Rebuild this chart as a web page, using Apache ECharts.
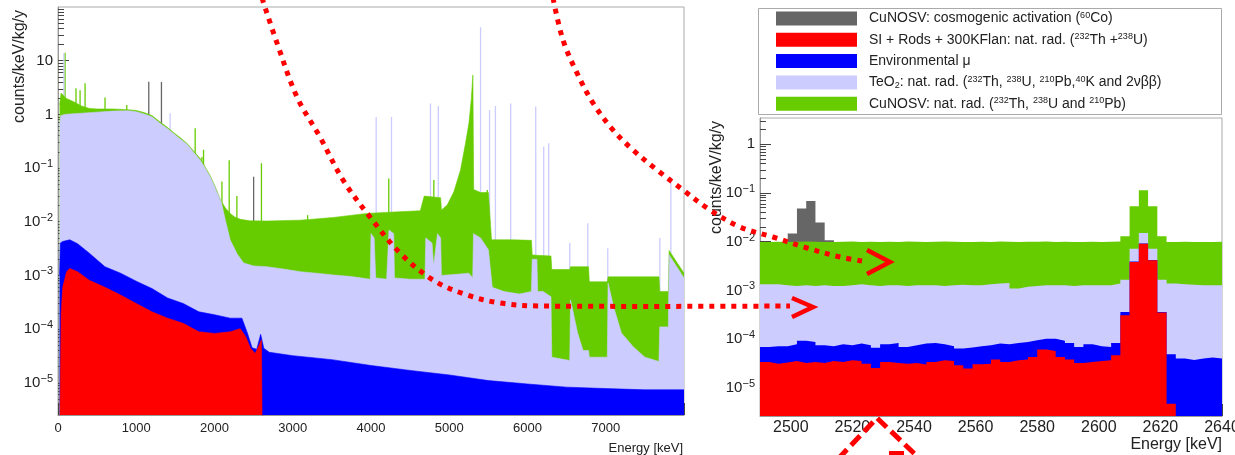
<!DOCTYPE html>
<html>
<head>
<meta charset="utf-8">
<script src="https://cdn.jsdelivr.net/npm/echarts@6/dist/echarts.min.js"></script>
<style>
  html, body { margin: 0; padding: 0; background: #fff; }
  #chart { width: 1235px; height: 455px; }
</style>
</head>
<body>
<div id="chart"></div>
<script>
// ---- Full-range spectrum (0-8000 keV): visible top of each stacked band, [keV, counts/keV/kg/y]
const fullCuTop = [[20, 1.5], [40, 2.5], [60, 2.3], [100, 2.0], [200, 1.72], [300, 1.43], [400, 1.29], [500, 1.26], [700, 1.26], [900, 1.22], [1000, 1.18], [1100, 1.08], [1200, 0.95], [1305, 0.72], [1400, 0.57], [1476, 0.46], [1560, 0.37], [1647, 0.29], [1730, 0.21], [1817, 0.15], [1880, 0.105], [1945, 0.072], [1990, 0.052], [2030, 0.038], [2073, 0.026], [2140, 0.018], [2200, 0.0143], [2260, 0.0122], [2330, 0.0111], [2450, 0.0104], [2670, 0.0103], [3097, 0.0107], [3520, 0.012], [3950, 0.0143], [4300, 0.0152], [4630, 0.016], [4680, 0.03], [4890, 0.028], [4900, 0.0165], [4974, 0.0205], [5059, 0.036], [5144, 0.092], [5208, 0.29], [5251, 0.68], [5281, 1.85], [5302, 5.4], [5312, 0.04], [5400, 0.035], [5500, 0.035], [5540, 0.0046], [5800, 0.0046], [6050, 0.0045], [6060, 0.0024], [6300, 0.0023], [6310, 0.00129], [6540, 0.00129], [6550, 0.00145], [6780, 0.00145], [6790, 0.00076], [7020, 0.00076], [7030, 0.00094], [7680, 0.00094], [7690, 0.0005], [7800, 0.0005], [7810, 0.0029], [8000, 0.0011]];

const fullTeoTop = [[20, 0.6], [35, 0.95], [100, 1.0], [300, 1.05], [500, 1.1], [700, 1.15], [900, 1.17], [1000, 1.12], [1100, 1.02], [1200, 0.9], [1305, 0.68], [1400, 0.54], [1476, 0.44], [1560, 0.35], [1647, 0.28], [1730, 0.2], [1817, 0.141], [1880, 0.1], [1945, 0.069], [1990, 0.05], [2030, 0.036], [2082, 0.025], [2140, 0.0105], [2200, 0.0046], [2290, 0.0025], [2372, 0.0017], [2500, 0.0015], [2670, 0.00145], [2900, 0.0013], [3097, 0.00117], [3300, 0.0011], [3520, 0.00102], [3750, 0.00095], [3990, 0.00085], [4000, 0.006], [4040, 0.005], [4060, 0.0009], [4200, 0.00085], [4230, 0.007], [4290, 0.006], [4300, 0.0009], [4500, 0.00085], [4690, 0.00085], [4700, 0.005], [4780, 0.004], [4800, 0.0015], [4850, 0.006], [4890, 0.005], [4900, 0.001], [5100, 0.00105], [5250, 0.0011], [5300, 0.0009], [5310, 0.006], [5400, 0.005], [5500, 0.003], [5550, 0.0006], [5700, 0.0005], [5900, 0.00045], [6050, 0.0005], [6060, 0.002], [6120, 0.002], [6130, 0.0005], [6200, 0.0005], [6300, 0.0004], [6310, 0.00003], [6540, 0.000026], [6550, 0.00035], [6640, 0.000085], [6710, 0.00004], [6780, 0.00004], [6790, 0.00003], [7020, 0.00003], [7030, 0.00072], [7100, 0.00026], [7200, 0.000085], [7350, 0.000047], [7500, 0.00003], [7680, 0.000025], [7690, 0.00011], [7800, 0.00011], [7810, 0.0024], [8000, 0.0009]];

const fullMuTop = [[20, 0.001], [30, 0.004], [60, 0.0043], [150, 0.0046], [250, 0.0039], [400, 0.0026], [600, 0.00145], [800, 0.0011], [1000, 0.00078], [1200, 0.00057], [1400, 0.00038], [1600, 0.0003], [1800, 0.00021], [2000, 0.000185], [2200, 0.00016], [2350, 0.00016], [2420, 0.000085], [2480, 0.000045], [2540, 0.000042], [2590, 0.00008], [2630, 0.000044], [2700, 0.000037], [3000, 0.000032], [3500, 0.000027], [4000, 0.000021], [4500, 0.000017], [5000, 0.000014], [5500, 0.000011], [6000, 0.0000095], [6500, 0.0000083], [7000, 0.0000078], [7500, 0.0000074], [8000, 0.0000074]];

const fullSiTop = [[22, 0.000001], [40, 0.0002], [60, 0.0006], [110, 0.00117], [150, 0.00135], [250, 0.00117], [400, 0.00081], [600, 0.0006], [800, 0.00043], [1000, 0.0003], [1200, 0.00021], [1400, 0.00016], [1600, 0.000128], [1800, 0.000089], [2000, 0.000083], [2200, 0.000089], [2330, 0.000102], [2400, 0.000072], [2460, 0.000044], [2520, 0.000035], [2560, 0.000047], [2600, 0.000063], [2618, 0.000063], [2620, 0.00000001]];

// ---- Narrow lines on the full-range spectrum, [keV, peak height]
const peaksCu = [[90, 14], [230, 3.05], [282, 2.8], [346, 3.8], [601, 2.07], [879, 1.5], [1753, 0.55], [1839, 0.16], [1860, 0.22], [2095, 0.056], [2188, 0.14], [2286, 0.03], [2600, 0.123], [3190, 0.0133], [4227, 0.064], [4803, 0.06], [5486, 0.039]];
const peaksCosmo = [[1160, 4.05], [1322, 4.0], [2500, 0.069]];
const peaksTeo = [[75, 13.8], [1433, 1.05], [4066, 0.89], [4262, 0.89], [4760, 1.6], [4860, 1.43], [5400, 42], [5515, 1.2], [5590, 1.43], [5785, 1.6], [6105, 1.4], [6207, 0.25], [6271, 0.29], [6540, 0.004], [6770, 0.0094], [7026, 0.0032], [7691, 0.005], [7832, 0.068]];
const peaksMu = [[502, 0.0124], [583, 0.0018], [892, 0.0031], [955, 0.0023], [1583, 0.00095], [2086, 0.00069]];
const peaksSi = [[502, 0.003], [892, 0.0026], [955, 0.0023], [1583, 0.00081], [1617, 0.00066], [2086, 0.0006], [2600, 0.004]];

// ---- Zoom on the 2490-2640 keV region: 3 keV bins (lower edges) and bin contents
const zoomBinLow = [2490, 2493, 2496, 2499, 2502, 2505, 2508, 2511, 2514, 2517, 2520, 2523, 2526, 2529, 2532, 2535, 2538, 2541, 2544, 2547, 2550, 2553, 2556, 2559, 2562, 2565, 2568, 2571, 2574, 2577, 2580, 2583, 2586, 2589, 2592, 2595, 2598, 2601, 2604, 2607, 2610, 2613, 2616, 2619, 2622, 2625, 2628, 2631, 2634, 2637];
const zoomBinEnd = 2640;
const zoomCosmo = [0, 0, 0, 0.0147, 0.0478, 0.0686, 0.0247, 0.0107, 0, 0, 0, 0, 0, 0, 0, 0, 0, 0, 0, 0, 0, 0, 0, 0, 0, 0, 0, 0, 0, 0, 0, 0, 0, 0, 0, 0, 0, 0, 0, 0, 0, 0, 0, 0, 0, 0, 0, 0, 0, 0];
const zoomCu = [0.0099, 0.0100, 0.0098, 0.0100, 0.0101, 0.0100, 0.0099, 0.0099, 0.0100, 0.0101, 0.0099, 0.0100, 0.0098, 0.0100, 0.0099, 0.0101, 0.0100, 0.0099, 0.0100, 0.0101, 0.0100, 0.0099, 0.0098, 0.0100, 0.0099, 0.0101, 0.0100, 0.0099, 0.0100, 0.0100, 0.0101, 0.0099, 0.0100, 0.0098, 0.0099, 0.0100, 0.0099, 0.0100, 0.0101, 0.0129, 0.0533, 0.1136, 0.0533, 0.0129, 0.0099, 0.0100, 0.0099, 0.0098, 0.0099, 0.0100];
const zoomTeo = [0.00133, 0.00133, 0.00127, 0.00123, 0.00127, 0.00123, 0.00127, 0.00123, 0.00123, 0.00127, 0.00133, 0.00127, 0.00123, 0.00127, 0.00127, 0.00123, 0.00127, 0.00127, 0.00127, 0.00123, 0.00127, 0.00131, 0.00127, 0.00127, 0.00133, 0.00138, 0.00142, 0.00109, 0.00118, 0.00123, 0.00127, 0.00127, 0.00127, 0.00123, 0.00127, 0.00127, 0.00127, 0.00127, 0.00138, 0.00166, 0.0072, 0.0151, 0.0072, 0.00166, 0.00138, 0.00133, 0.00131, 0.00127, 0.00127, 0.00127];
const zoomMu = [0.000069, 0.000071, 0.000071, 0.000078, 0.000092, 0.000087, 0.000075, 0.000071, 0.000078, 0.000075, 0.000081, 0.000075, 0.000066, 0.000078, 0.000083, 0.000069, 0.000075, 0.000081, 0.000083, 0.000078, 0.000071, 0.000064, 0.000067, 0.000071, 0.000075, 0.000081, 0.000078, 0.000083, 0.000087, 0.000094, 0.000102, 0.000101, 0.000092, 0.000083, 0.000069, 0.000078, 0.000071, 0.000069, 0.000083, 0.00036, 0.0039, 0.0092, 0.0042, 0.00036, 0.000049, 0.00004, 0.000037, 0.00004, 0.000042, 0.00004];
const zoomSi = [0.000034, 0.0000313, 0.0000329, 0.0000356, 0.0000324, 0.000034, 0.0000324, 0.0000356, 0.000034, 0.0000367, 0.0000356, 0.0000313, 0.0000255, 0.000034, 0.0000324, 0.0000313, 0.0000324, 0.0000299, 0.000034, 0.0000367, 0.0000356, 0.000029, 0.0000248, 0.0000304, 0.0000313, 0.0000379, 0.000034, 0.0000367, 0.0000379, 0.000043, 0.000061, 0.000057, 0.000043, 0.0000379, 0.0000324, 0.000034, 0.0000356, 0.0000367, 0.0000465, 0.00031, 0.00384, 0.0091, 0.00415, 0.00035, 0.0000047, 0, 0, 0, 0, 0];

// ---- Axis ticks
const fullEnergyTicks = [0, 1000, 2000, 3000, 4000, 5000, 6000, 7000, 8000];
const fullEnergyLabels = [0, 1000, 2000, 3000, 4000, 5000, 6000, 7000];
const zoomEnergyTicks = [2500, 2520, 2540, 2560, 2580, 2600, 2620, 2640];
const fullDecades = [-5, -4, -3, -2, -1, 0, 1];
const zoomDecades = [-5, -4, -3, -2, -1, 0];

const legendLabels = {
  cosmo: 'CuNOSV: cosmogenic activation ({s|60}Co)',
  si: 'SI + Rods + 300KFlan: nat. rad. ({s|232}Th +{s|238}U)',
  mu: 'Environmental \u03bc',
  teo: 'TeO{d|2}: nat. rad. ({s|232}Th, {s|238}U, {s|210}Pb,{s|40}K and 2\u03bd\u03b2\u03b2)',
  cu: 'CuNOSV: nat. rad. ({s|232}Th, {s|238}U and {s|210}Pb)'
};

const GREEN = '#66cc00', LAV = '#ccccff', BLUE = '#0000ff', RED = '#ff0000', GRAY = '#666666';
const FONT = '"Liberation Sans", Arial, Helvetica, sans-serif';
const TXT = '#222';
const FULL_YMIN = -5.6, FULL_YMAX = 2;
const ZOOM_YMIN = -5.58, ZOOM_YMAX = 0.54;

const lg = v => (v > 0 ? Math.log10(v) : -9);

function minorLogTicks(lo, hi) {
  const out = [];
  for (let n = Math.floor(lo) - 1; n <= Math.ceil(hi); n++) {
    for (let k = 2; k <= 9; k++) {
      const t = n + Math.log10(k);
      if (t > lo && t < hi) out.push(t);
    }
  }
  return out;
}
function minorLinTicks(lo, hi, step, major) {
  const out = [];
  for (let t = lo; t <= hi + 1e-9; t += step) {
    if (major.indexOf(t) < 0) out.push(t);
  }
  return out;
}
function decadeLabel(v) {
  const n = Math.round(v);
  if (n === 0) return '{b|1}';
  if (n === 1) return '{b|10}';
  return '{b|10}{s|' + (n < 0 ? '\u2212' : '') + Math.abs(n) + '}';
}

function yAxes(grid, lo, hi, decades, fs, sfs) {
  return [{
    gridIndex: grid, type: 'value', min: lo, max: hi, position: 'left',
    axisLine: { show: true, onZero: false, lineStyle: { color: '#999', width: 1 } },
    axisTick: { show: true, inside: true, length: 11, customValues: decades, lineStyle: { color: '#444' } },
    axisLabel: {
      show: true, customValues: decades, margin: 5, formatter: decadeLabel,
      rich: {
        b: { fontSize: fs, fontFamily: FONT, color: TXT, lineHeight: fs + 4 },
        s: { fontSize: sfs, fontFamily: FONT, color: TXT, lineHeight: sfs, verticalAlign: 'top' }
      }
    },
    splitLine: { show: false }
  }, {
    gridIndex: grid, type: 'value', min: lo, max: hi, position: 'left',
    axisLine: { show: false, onZero: false },
    axisTick: { show: true, inside: true, length: 6, customValues: minorLogTicks(lo, hi), lineStyle: { color: '#444' } },
    axisLabel: { show: false },
    splitLine: { show: false }
  }];
}
function xAxes(grid, lo, hi, ticks, labels, minorStep, fs, margin) {
  return [{
    gridIndex: grid, type: 'value', min: lo, max: hi, position: 'bottom',
    axisLine: { show: true, onZero: false, lineStyle: { color: '#999', width: 1 } },
    axisTick: { show: true, inside: true, length: 12, customValues: ticks, lineStyle: { color: '#444' } },
    axisLabel: { show: true, customValues: labels, fontSize: fs, fontFamily: FONT, color: TXT, margin: margin,
                 formatter: v => String(v) },
    splitLine: { show: false }
  }, {
    gridIndex: grid, type: 'value', min: lo, max: hi, position: 'bottom',
    axisLine: { show: false, onZero: false },
    axisTick: { show: true, inside: true, length: 6, customValues: minorLinTicks(lo, hi, minorStep, ticks), lineStyle: { color: '#444' } },
    axisLabel: { show: false },
    splitLine: { show: false }
  }];
}

// filled band of the full-range spectrum
function band(name, pts, color) {
  return {
    name, type: 'line', xAxisIndex: 0, yAxisIndex: 0,
    data: pts.map(([e, v]) => [e, lg(v)]),
    symbol: 'none', showSymbol: false, clip: true, silent: true, animation: false,
    lineStyle: { width: 0.6, color }, itemStyle: { color },
    areaStyle: { color, opacity: 1, origin: 'start' }
  };
}
// narrow lines rising from the bottom of the full-range frame
function spikes(name, pts, color) {
  return {
    name, type: 'custom', xAxisIndex: 0, yAxisIndex: 0, clip: true, silent: true, animation: false,
    itemStyle: { color },
    encode: { x: 0, y: 1 },
    data: pts.map(([e, v]) => [e, lg(v)]),
    renderItem: (params, api) => {
      const top = api.coord([api.value(0), api.value(1)]);
      const bot = api.coord([api.value(0), FULL_YMIN]);
      return { type: 'line', shape: { x1: top[0], y1: top[1], x2: bot[0], y2: bot[1] },
               style: { stroke: color, lineWidth: 1.3 } };
    }
  };
}
// step histogram of the zoomed region
function hist(name, vals, color) {
  const data = zoomBinLow.map((e, i) => [e, lg(vals[i])]);
  data.push([zoomBinEnd, lg(vals[vals.length - 1])]);
  return {
    name, type: 'line', xAxisIndex: 2, yAxisIndex: 2, step: 'end',
    data, symbol: 'none', showSymbol: false, clip: true, silent: true, animation: false,
    lineStyle: { width: 0, color }, itemStyle: { color },
    areaStyle: { color, opacity: 1, origin: 'start' }
  };
}

const dotted = { stroke: RED, lineWidth: 5, lineDash: [5, 6], fill: null };
const chevron = { stroke: RED, lineWidth: 4.5, fill: null, lineJoin: 'miter' };

const option = {
  backgroundColor: '#ffffff',
  animation: false,
  textStyle: { fontFamily: FONT },
  grid: [
    { left: 58, top: 7, width: 626, height: 408, show: true, borderColor: '#aaa', borderWidth: 1,
      backgroundColor: 'transparent', containLabel: false, outerBoundsMode: 'none' },
    { left: 760, top: 118, width: 462, height: 298, show: true, borderColor: '#aaa', borderWidth: 1,
      backgroundColor: 'transparent', containLabel: false, outerBoundsMode: 'none' }
  ],
  xAxis: [
    ...xAxes(0, 0, 8000, fullEnergyTicks, fullEnergyLabels, 200, 13, 7),
    ...xAxes(1, 2490, 2640, zoomEnergyTicks, zoomEnergyTicks, 5, 16, 4)
  ],
  yAxis: [
    ...yAxes(0, FULL_YMIN, FULL_YMAX, fullDecades, 15, 11),
    ...yAxes(1, ZOOM_YMIN, ZOOM_YMAX, zoomDecades, 15, 11)
  ],
  legend: {
    show: true, orient: 'vertical', left: 776, top: 11, itemWidth: 81, itemHeight: 14, itemGap: 6.3,
    icon: 'rect', selectedMode: false, padding: 0,
    data: ['cosmo', 'si', 'mu', 'teo', 'cu'],
    formatter: name => legendLabels[name],
    textStyle: {
      fontSize: 14, color: TXT, fontFamily: FONT, lineHeight: 15, padding: [0, 0, 0, 7],
      rich: {
        s: { fontSize: 9, fontFamily: FONT, color: TXT, lineHeight: 8, verticalAlign: 'top' },
        d: { fontSize: 9, fontFamily: FONT, color: TXT, lineHeight: 8, verticalAlign: 'bottom' }
      }
    }
  },
  series: [
    band('cu', fullCuTop, GREEN),
    spikes('cu', peaksCu, GREEN),
    spikes('cosmo', peaksCosmo, GRAY),
    band('teo', fullTeoTop, LAV),
    spikes('teo', peaksTeo, LAV),
    band('mu', fullMuTop, BLUE),
    spikes('mu', peaksMu, BLUE),
    band('si', fullSiTop, RED),
    spikes('si', peaksSi, RED),
    hist('cosmo', zoomCosmo, GRAY),
    hist('cu', zoomCu, GREEN),
    hist('teo', zoomTeo, LAV),
    hist('mu', zoomMu, BLUE),
    hist('si', zoomSi, RED)
  ],
  graphic: [
    // legend frame
    { type: 'rect', shape: { x: 758.5, y: 8.5, width: 463, height: 106 },
      style: { fill: null, stroke: '#aaa', lineWidth: 1 }, z: 50 },
    // axis titles
    { type: 'text', x: 20, y: 10, rotation: Math.PI / 2,
      style: { text: 'counts/keV/kg/y', font: '16px ' + FONT, fill: TXT, align: 'right', verticalAlign: 'middle' } },
    { type: 'text', x: 683, y: 448,
      style: { text: 'Energy [keV]', font: '13px ' + FONT, fill: TXT, align: 'right', verticalAlign: 'middle' } },
    { type: 'text', x: 717, y: 121, rotation: Math.PI / 2,
      style: { text: 'counts/keV/kg/y', font: '16px ' + FONT, fill: TXT, align: 'right', verticalAlign: 'middle' } },
    { type: 'text', x: 1222, y: 445,
      style: { text: 'Energy [keV]', font: '16px ' + FONT, fill: TXT, align: 'right', verticalAlign: 'middle' } },
    // red guide arrows linking the two views
    { type: 'polyline', z: 100, style: dotted,
      shape: { smooth: 0.35, points: [[262, -2], [277, 43], [297, 97], [320, 137], [343, 180], [370, 217], [400, 253], [433, 280], [467, 295], [500, 303], [540, 306], [790, 306]] } },
    { type: 'polyline', z: 100, style: chevron, shape: { points: [[792, 298], [813, 307], [792, 317]] } },
    { type: 'polyline', z: 100, style: dotted,
      shape: { smooth: 0.35, points: [[553, -2], [563, 40], [577, 73], [593, 103], [613, 130], [633, 150], [657, 170], [683, 190], [710, 210], [740, 227], [773, 237], [807, 248], [840, 257], [862, 261]] } },
    { type: 'polyline', z: 100, style: chevron, shape: { points: [[867, 250], [890, 262], [867, 274]] } },
    { type: 'polyline', z: 100, style: { stroke: RED, lineWidth: 5, lineDash: [13, 6], fill: null },
      shape: { points: [[838, 459], [877, 418], [920, 459]] } },
    { type: 'line', z: 100, style: { stroke: RED, lineWidth: 4 }, shape: { x1: 889, y1: 453, x2: 904, y2: 453 } }
  ]
};

const chart = echarts.init(document.getElementById('chart'), null, { renderer: 'canvas' });
chart.setOption(option);
</script>
</body>
</html>
